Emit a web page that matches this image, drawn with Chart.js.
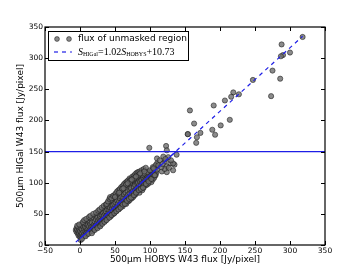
<!DOCTYPE html>
<html>
<head>
<meta charset="utf-8">
<script src="https://cdn.jsdelivr.net/npm/chart.js@4"></script>
<style>
  html, body { margin: 0; padding: 0; background: #fff; }
  #wrap { width: 361px; height: 273px; }
</style>
</head>
<body>
<div id="wrap"><canvas id="myChart" width="361" height="273"></canvas></div>
<script>
// flux of unmasked region [Jy/pixel]
const fluxX = [
  -6,-5,-5,-4,-3,-3,-2,-2,
  -1,-1,0,0,0,1,1,2,2,2,
  3,3,4,4,5,5,6,6,
  7,7,8,8,9,9,10,10,10,
  11,11,12,12,13,13,14,14,
  15,15,16,16,17,17,18,18,
  19,19,20,20,21,21,22,22,
  23,23,24,24,25,25,26,26,
  27,27,28,28,29,29,30,30,
  31,31,32,32,33,33,34,34,
  35,35,36,36,37,37,38,38,
  39,39,40,40,41,41,42,42,
  43,43,43,44,44,45,45,46,46,
  47,47,48,48,49,49,50,50,
  51,51,52,52,53,53,54,54,
  55,55,56,56,57,57,58,58,
  59,59,60,60,61,61,62,62,
  63,63,64,64,65,65,66,66,
  67,67,68,68,69,69,70,70,
  71,71,72,72,73,73,74,74,
  75,75,76,76,77,77,78,78,
  79,79,80,80,81,81,82,82,
  83,83,84,84,85,85,86,86,
  87,87,88,88,89,89,90,90,
  91,91,92,92,93,93,94,94,
  95,95,96,96,97,97,98,98,
  99,99,100,100,101,101,102,102,
  103,103,104,104,105,105,106,106,
  107,107,108,108,109,109,110,110,
  -4,-1,1,3,4,6,8,9,12,13,15,17,19,21,23,25,26,28,29,31,32,34,35,37,38,40,42,44,45,47,
  49,50,52,53,55,56,58,59,61,62,64,65,67,68,70,72,73,75,77,78,80,82,84,85,87,89,90,92,
  94,96,98,100,102,104,106,108,
  38,40,42,43,45,47,49,51,53,55,57,59,61,63,65,67,69,71,73,75,77,79,81,83,85,88,91,94,
  60,66,72,78,84,50,56,62,68,74,80,86,92,
  110,114,121,129,135,133,124,117,124,105,107,119,121,133,138,112,116,127,130,126,118,122,
  99,123,124,
  318,288,300,290,287,275,286,247,273,227,219,216,207,191,157,214,201,163,189,172,154,193,167,166,154
];
const fluxY = [
  24,27,21,25,18,29,22,15,
  19,26,13,30,22,16,27,12,20,33,
  18,25,14,30,21,35,17,26,
  15,29,22,35,19,27,24,38,17,
  21,32,26,40,20,30,24,36,
  22,33,29,42,25,36,30,22,
  28,44,33,25,38,30,27,46,
  32,41,29,48,36,44,31,39,
  35,50,42,31,38,46,34,53,
  40,48,36,55,44,51,38,47,
  42,58,50,39,46,54,43,61,
  48,57,43,62,52,46,56,65,
  50,60,73,46,67,55,63,49,58,
  54,64,50,70,59,66,53,74,
  58,68,55,76,62,71,57,66,
  61,79,70,58,65,75,62,82,
  68,77,64,85,72,62,76,88,
  70,81,67,90,75,84,72,66,
  78,92,73,86,81,70,76,95,
  83,72,88,97,79,91,75,85,
  82,99,87,77,93,84,80,101,
  88,96,82,103,91,85,98,105,
  87,100,93,106,84,97,102,90,
  96,107,91,104,99,88,94,108,
  101,92,106,97,102,110,96,105,
  100,112,106,97,110,103,99,113,
  107,116,103,110,118,106,112,101,
  109,120,114,105,118,111,122,108,
  115,124,112,119,127,116,121,131,
  31,33,8,10,37,40,14,42,18,45,47,19,50,24,52,27,55,57,30,60,34,63,37,65,40,68,44,72,48,76,
  51,79,54,82,57,85,60,88,65,92,66,96,71,98,74,101,76,104,80,107,84,110,88,112,90,113,92,115,
  98,117,102,120,106,125,112,128,
  66,70,74,77,75,79,80,83,86,88,90,93,95,98,100,102,104,107,106,110,111,114,116,117,118,120,122,124,
  90,97,103,108,113,77,84,91,99,105,110,115,118,
  139,136,134,131,129,120,126,118,117,123,112,142,122,131,145,128,125,124,136,141,130,138,
  156,159,152,
  334,322,309,305,303,280,267,265,239,242,245,238,232,224,216,201,192,195,185,180,178,177,173,164,178
];

// fitted relation S_HIGal = 1.02 S_HOBYS + 10.73, end points over the data range
const fitX = [-6, 318];
const fitY = [4.6, 335.1];
// solid fit below the 150 Jy/pixel cut
const solidX = [0, 137];
const solidY = [10.5, 150];
// cut level
const cutX = [-50, 350];
const cutY = [150, 150];

const xTicks = [-50, 0, 50, 100, 150, 200, 250, 300, 350];
const yTicks = [0, 50, 100, 150, 200, 250, 300, 350];

const xTitle = '500\u03bcm HOBYS W43 flux [Jy/pixel]';
const yTitle = '500\u03bcm HIGal W43 flux [Jy/pixel]';

const pairs = (xs, ys) => xs.map((x, i) => ({ x: x, y: ys[i] }));

const BLUE = 'rgb(30,30,230)';
const PT_FILL = 'rgba(110,110,110,0.8)';
const PT_EDGE = 'rgba(20,20,20,0.9)';

// inward ticks on all four sides plus the frame
const framePlugin = {
  id: 'frame',
  afterDatasetsDraw(chart) {
    const ctx = chart.ctx;
    const a = chart.chartArea;
    const xs = chart.scales.x, ys = chart.scales.y;
    ctx.save();
    ctx.strokeStyle = '#000';
    ctx.lineWidth = 1;
    ctx.beginPath();
    xTicks.forEach(v => {
      const px = Math.round(xs.getPixelForValue(v)) + 0.5;
      ctx.moveTo(px, a.bottom); ctx.lineTo(px, a.bottom - 4);
      ctx.moveTo(px, a.top); ctx.lineTo(px, a.top + 4);
    });
    yTicks.forEach(v => {
      const py = Math.round(ys.getPixelForValue(v)) + 0.5;
      ctx.moveTo(a.left, py); ctx.lineTo(a.left + 4, py);
      ctx.moveTo(a.right, py); ctx.lineTo(a.right - 4, py);
    });
    ctx.stroke();
    ctx.lineWidth = 1.2;
    ctx.strokeRect(a.left, a.top, a.right - a.left, a.bottom - a.top);

    // axis titles
    ctx.fillStyle = '#000';
    ctx.font = '9px "DejaVu Sans"';
    ctx.textAlign = 'center';
    ctx.textBaseline = 'middle';
    ctx.fillText(xTitle, (a.left + a.right) / 2, 260);
    ctx.translate(21, (a.top + a.bottom) / 2);
    ctx.rotate(-Math.PI / 2);
    ctx.fillText(yTitle, 0, 0);
    ctx.restore();
  }
};

// matplotlib style legend with math text
const legendPlugin = {
  id: 'mplLegend',
  afterDraw(chart) {
    const ctx = chart.ctx;
    const bx = 48.5, by = 31.5, bw = 140, bh = 29;
    ctx.save();
    ctx.fillStyle = '#fff';
    ctx.fillRect(bx, by, bw, bh);
    ctx.strokeStyle = '#000';
    ctx.lineWidth = 1;
    ctx.strokeRect(bx, by, bw, bh);

    // row 1: two markers
    [57, 69].forEach(cx => {
      ctx.beginPath();
      ctx.arc(cx, 39, 2.4, 0, Math.PI * 2);
      ctx.fillStyle = PT_FILL; ctx.fill();
      ctx.strokeStyle = PT_EDGE; ctx.lineWidth = 0.6; ctx.stroke();
    });
    ctx.fillStyle = '#000';
    ctx.font = '9px "DejaVu Sans"';
    ctx.textBaseline = 'middle';
    ctx.fillText('flux of unmasked region', 78, 38.5);

    // row 2: dashed line and relation
    ctx.strokeStyle = BLUE;
    ctx.lineWidth = 1.2;
    ctx.setLineDash([4, 4]);
    ctx.beginPath();
    ctx.moveTo(54, 52); ctx.lineTo(72, 52);
    ctx.stroke();
    ctx.setLineDash([]);

    let x = 78;
    const y = 52;
    const put = (txt, font, dy) => {
      ctx.font = font;
      ctx.fillText(txt, x, y + dy);
      x += ctx.measureText(txt).width;
    };
    ctx.fillStyle = '#000';
    put('S', 'italic 10px "Liberation Serif"', 0);
    put('HIGal', '6px "Liberation Serif"', 2.5);
    put('=1.02', '10px "Liberation Serif"', 0);
    put('S', 'italic 10px "Liberation Serif"', 0);
    put('HOBYS', '6px "Liberation Serif"', 2.5);
    put('+10.73', '10px "Liberation Serif"', 0);
    ctx.restore();
  }
};

const ctx = document.getElementById('myChart').getContext('2d');
const chart = new Chart(ctx, {
  type: 'scatter',
  data: {
    datasets: [
      {
        label: 'flux of unmasked region',
        data: pairs(fluxX, fluxY),
        backgroundColor: PT_FILL,
        borderColor: PT_EDGE,
        borderWidth: 0.6,
        pointRadius: 2.6,
        order: 3
      },
      {
        label: 'cut',
        type: 'line',
        data: pairs(cutX, cutY),
        borderColor: BLUE,
        borderWidth: 1.2,
        pointRadius: 0,
        order: 2
      },
      {
        label: 'solid fit',
        type: 'line',
        data: pairs(solidX, solidY),
        borderColor: BLUE,
        borderWidth: 1.2,
        pointRadius: 0,
        order: 1
      },
      {
        label: 'fit',
        type: 'line',
        data: pairs(fitX, fitY),
        borderColor: BLUE,
        borderWidth: 1.2,
        borderDash: [4, 4],
        pointRadius: 0,
        order: 0
      }
    ]
  },
  options: {
    responsive: false,
    animation: false,
    layout: { padding: { top: 27, right: 36, left: 0, bottom: 0 } },
    plugins: { legend: { display: false }, tooltip: { enabled: false } },
    scales: {
      x: {
        type: 'linear',
        min: -50, max: 350,
        afterBuildTicks: s => { s.ticks = xTicks.map(v => ({ value: v })); },
        afterFit: s => { s.height = 28; },
        grid: { display: false, drawTicks: false },
        border: { display: false },
        ticks: {
          padding: 2,
          color: '#000',
          font: { family: 'DejaVu Sans', size: 7.5 },
          maxRotation: 0,
          callback: v => String(v).replace('-', '\u2212')
        }
      },
      y: {
        type: 'linear',
        min: 0, max: 350,
        afterBuildTicks: s => { s.ticks = yTicks.map(v => ({ value: v })); },
        afterFit: s => { s.width = 45; },
        grid: { display: false, drawTicks: false },
        border: { display: false },
        ticks: {
          padding: 2,
          color: '#000',
          font: { family: 'DejaVu Sans', size: 7.5 }
        }
      }
    }
  },
  plugins: [framePlugin, legendPlugin]
});
</script>
</body>
</html>
